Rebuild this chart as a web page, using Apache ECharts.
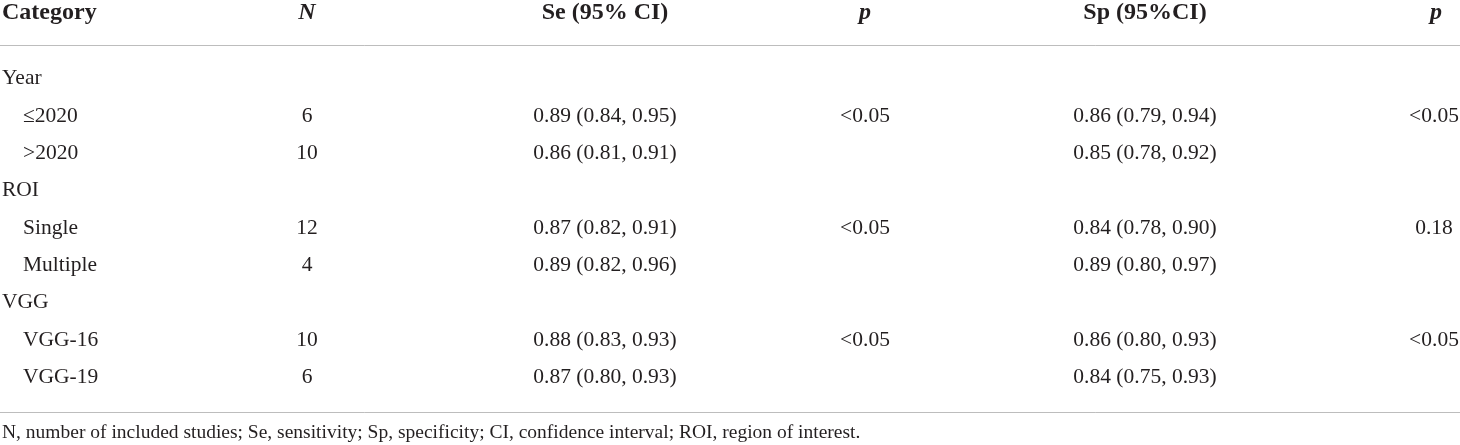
<!DOCTYPE html>
<html>
<head>
<meta charset="utf-8">
<title>Subgroup analysis</title>
<script src="https://cdn.jsdelivr.net/npm/echarts@6/dist/echarts.min.js"></script>
<style>
  html, body { margin: 0; padding: 0; background: #fff; }
  #main { width: 1460px; height: 445px; }
</style>
</head>
<body>
<div id="main"></div>
<script>
// table data
const headers = ['Category', 'N', 'Se (95% CI)', 'p', 'Sp (95%CI)', 'p']
const rowLabels = ['Year', '≤2020', '>2020', 'ROI', 'Single', 'Multiple', 'VGG', 'VGG-16', 'VGG-19']
const nValues = [null, 6, 10, null, 12, 4, null, 10, 6]
const seEst = [null, 0.89, 0.86, null, 0.87, 0.89, null, 0.88, 0.87]
const seLow = [null, 0.84, 0.81, null, 0.82, 0.82, null, 0.83, 0.80]
const seHigh = [null, 0.95, 0.91, null, 0.91, 0.96, null, 0.93, 0.93]
const seP = ['', '<0.05', '', '', '<0.05', '', '', '<0.05', '']
const spEst = [null, 0.86, 0.85, null, 0.84, 0.89, null, 0.86, 0.84]
const spLow = [null, 0.79, 0.78, null, 0.78, 0.80, null, 0.80, 0.75]
const spHigh = [null, 0.94, 0.92, null, 0.90, 0.97, null, 0.93, 0.93]
const spP = ['', '<0.05', '', '', '0.18', '', '', '<0.05', '']
const footnote = 'N, number of included studies; Se, sensitivity; Sp, specificity; CI, confidence interval; ROI, region of interest.'

// layout: column anchor (x in px on a 0..1460 axis) and alignment
const colX = [2, 307, 605, 865, 1145, 1434]
const colAlign = ['left', 'center', 'center', 'center', 'center', 'center']
const FONT = '"Liberation Serif", "DejaVu Serif", serif'
const INK = '#231f20'

const fmt = (e, l, h) => e == null ? '' : e.toFixed(2) + ' (' + l.toFixed(2) + ', ' + h.toFixed(2) + ')'

// one item per cell: [col, row, text, indented]
const cells = []
rowLabels.forEach((label, i) => {
  const group = nValues[i] == null
  cells.push([0, i, label, group ? 0 : 1])
  if (group) return
  cells.push([1, i, String(nValues[i]), 0])
  cells.push([2, i, fmt(seEst[i], seLow[i], seHigh[i]), 0])
  if (seP[i]) cells.push([3, i, seP[i], 0])
  cells.push([4, i, fmt(spEst[i], spLow[i], spHigh[i]), 0])
  if (spP[i]) cells.push([5, i, spP[i], 0])
})

const myChart = echarts.init(document.getElementById('main'))

const ruleAxis = (pos) => ({
  type: 'value', min: 0, max: 1460, position: pos, show: true,
  axisLine: { show: true, onZero: false, lineStyle: { color: '#bdbdbd', width: 1 } },
  axisTick: { show: false }, axisLabel: { show: false }, splitLine: { show: false }
})

const options = {
  animation: false,
  grid: { left: 0, right: 0, top: 45, bottom: 33 },
  xAxis: [ruleAxis('top'), ruleAxis('bottom')],
  yAxis: { type: 'value', inverse: true, min: -0.9, max: 8.93, show: false },
  series: [{
    type: 'custom',
    clip: false,
    data: cells,
    renderItem: function (params, api) {
      const col = api.value(0)
      const row = api.value(1)
      const indent = api.value(3) ? 21 : 0
      const pt = api.coord([colX[col], row])
      return {
        type: 'text',
        x: pt[0] + indent,
        y: pt[1],
        style: {
          text: cells[params.dataIndex][2],
          fill: INK,
          font: '21.5px ' + FONT,
          align: colAlign[col],
          verticalAlign: 'middle'
        }
      }
    }
  }],
  graphic: headers.map((h, c) => ({
    type: 'text',
    x: c === 5 ? 1436 : colX[c],
    y: 13,
    style: {
      text: h,
      fill: INK,
      font: ((c === 1 || c === 3 || c === 5) ? 'italic bold ' : 'bold ') + '24px ' + FONT,
      align: colAlign[c],
      verticalAlign: 'middle'
    }
  })).concat([{
    type: 'text',
    x: 2,
    y: 433,
    style: {
      text: footnote,
      fill: INK,
      font: '19.5px ' + FONT,
      align: 'left',
      verticalAlign: 'middle'
    }
  }])
}
myChart.setOption(options)
</script>
</body>
</html>
